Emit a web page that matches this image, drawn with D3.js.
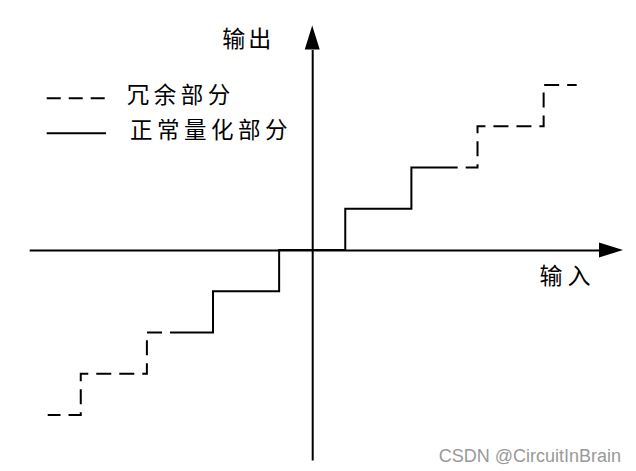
<!DOCTYPE html>
<html>
<head>
<meta charset="utf-8">
<script src="https://cdn.jsdelivr.net/npm/d3@7"></script>
<style>
  html, body { margin: 0; padding: 0; background: #fff; }
  svg { display: block; }
  .cjk { font-family: "Noto Sans CJK SC", sans-serif; fill: #000; }
</style>
</head>
<body>
<div id="chart"></div>
<script>
// quantizer: input thresholds and output levels
const stepEdges = [-3.5, -2.5, -1.5, -0.5, 0.5, 1.5, 2.5, 3.5];
const outputLevels = [-4, -3, -2, -1, 0, 1, 2, 3, 4];
const inputRange = [-4, 4];
const normalRange = [-2.15, 2.2];

// axis extents (in data units)
const xAxisExtent = [-4.28, 4.7];
const yAxisExtent = [-5.09, 5.44];

const legendItems = [
  { label: '冗余部分', dashed: true },
  { label: '正常量化部分', dashed: false },
];
const xLabel = '输入';
const yLabel = '输出';
const watermark = 'CSDN @CircuitInBrain';

const width = 636;
const height = 471;

const svg = d3.select('#chart')
  .append('svg')
  .attr('width', width)
  .attr('height', height);

const x = d3.scaleLinear().domain(inputRange).range([47.7, 576.7]);
const y = d3.scaleLinear().domain([-4, 4]).range([415, 85]);

const q = (v) => outputLevels[d3.bisectRight(stepEdges, v)];

// staircase corners between a and b
function stairs(a, b) {
  const pts = [[a, q(a)]];
  stepEdges.filter((e) => e > a && e < b).forEach((e) => {
    pts.push([e, q(e - 1e-9)]);
    pts.push([e, q(e)]);
  });
  pts.push([b, q(b)]);
  return pts;
}

const line = d3.line().x((d) => x(d[0])).y((d) => y(d[1]));

// axes (no ticks)
const xAxisScale = d3.scaleLinear().domain(xAxisExtent).range(xAxisExtent.map(x));
const yAxisScale = d3.scaleLinear().domain(yAxisExtent).range(yAxisExtent.map(y));
const arrowLen = 24;
const arrowHalf = 7.5;

const xAxisG = svg.append('g')
  .attr('transform', `translate(0,${y(0)})`)
  .call(d3.axisBottom(xAxisScale.copy().range([xAxisScale.range()[0], xAxisScale.range()[1] - arrowLen]))
    .tickValues([]).tickSizeOuter(0));
xAxisG.select('.domain').attr('stroke', '#000').attr('stroke-width', 2);

const yAxisG = svg.append('g')
  .attr('transform', `translate(${x(0)},0)`)
  .call(d3.axisLeft(yAxisScale.copy().range([yAxisScale.range()[0], yAxisScale.range()[1] + arrowLen]))
    .tickValues([]).tickSizeOuter(0));
yAxisG.select('.domain').attr('stroke', '#000').attr('stroke-width', 2);

// arrow heads
const xTip = xAxisScale(xAxisExtent[1]);
const yTip = yAxisScale(yAxisExtent[1]);
svg.append('path')
  .attr('d', `M${xTip},${y(0)}L${xTip - arrowLen},${y(0) - arrowHalf}L${xTip - arrowLen},${y(0) + arrowHalf}Z`)
  .attr('fill', '#000');
svg.append('path')
  .attr('d', `M${x(0)},${yTip}L${x(0) - arrowHalf},${yTip + arrowLen}L${x(0) + arrowHalf},${yTip + arrowLen}Z`)
  .attr('fill', '#000');

// normal quantization part
svg.append('path')
  .datum(stairs(normalRange[0], normalRange[1]))
  .attr('d', line)
  .attr('fill', 'none')
  .attr('stroke', '#000')
  .attr('stroke-width', 2);

// redundant parts, dashed, drawn outward from the solid part
[stairs(inputRange[0], normalRange[0]).reverse(), stairs(normalRange[1], inputRange[1])]
  .forEach((pts) => {
    svg.append('path')
      .datum(pts)
      .attr('d', line)
      .attr('fill', 'none')
      .attr('stroke', '#000')
      .attr('stroke-width', 2)
      .attr('stroke-dasharray', '15,8')
      .attr('stroke-dashoffset', 15);
  });

// axis labels
svg.append('text')
  .attr('class', 'cjk')
  .attr('x', 248.3)
  .attr('y', 38.7)
  .attr('dy', '0.35em')
  .attr('text-anchor', 'middle')
  .attr('font-size', 23)
  .attr('letter-spacing', 3)
  .text(yLabel);

svg.append('text')
  .attr('class', 'cjk')
  .attr('x', 567.5)
  .attr('y', 276)
  .attr('dy', '0.35em')
  .attr('text-anchor', 'middle')
  .attr('font-size', 23)
  .attr('letter-spacing', 5)
  .text(xLabel);

// legend
const legend = svg.append('g');
const legendRows = [{ ly: 98.3, tx: 126.7 }, { ly: 133.3, tx: 130 }];
legendItems.forEach((item, i) => {
  const row = legendRows[i];
  legend.append('line')
    .attr('x1', 46.7).attr('x2', 106)
    .attr('y1', row.ly).attr('y2', row.ly)
    .attr('stroke', '#000')
    .attr('stroke-width', 2)
    .attr('stroke-dasharray', item.dashed ? '14,8' : null);
  legend.append('text')
    .attr('class', 'cjk')
    .attr('x', row.tx)
    .attr('y', row.ly - 3)
    .attr('dy', '0.35em')
    .attr('font-size', 22.5)
    .attr('letter-spacing', 4.5)
    .text(item.label);
});

// watermark
svg.append('text')
  .attr('x', 621)
  .attr('y', 461.5)
  .attr('text-anchor', 'end')
  .attr('font-family', 'Liberation Sans, Arial, sans-serif')
  .attr('font-size', 18)
  .attr('fill', '#999')
  .text(watermark);
</script>
</body>
</html>
